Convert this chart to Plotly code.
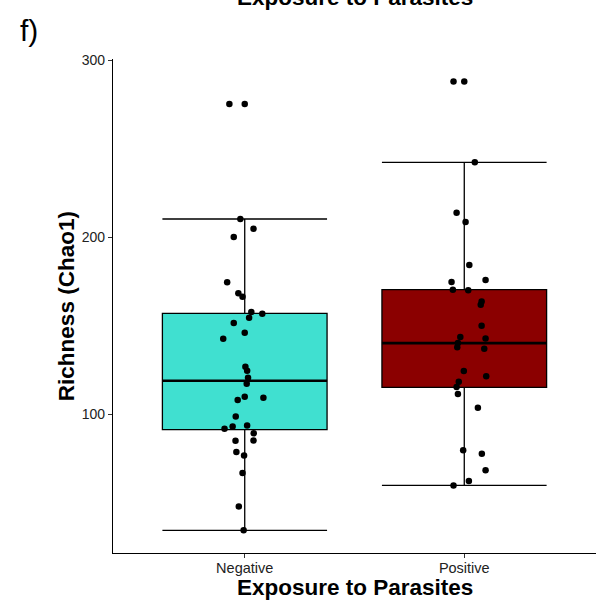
import plotly.graph_objects as go

# ---- data ----
categories = ["Negative", "Positive"]
cat_pos = [1, 2]

# box statistics (lower whisker, Q1, median, Q3, upper whisker)
lower_whisker = [34.5, 59.9]
q1 = [91.4, 115.3]
median = [119.0, 140.3]
q3 = [157.1, 170.5]
upper_whisker = [210.4, 242.4]
outliers = [[275.4], [288.1]]

# jittered observations: values and horizontal jitter offsets (category units)
neg_values = [275.4, 210.4, 204.9, 200.2, 174.6, 168.4, 166.5, 157.9, 156.9, 154.6,
              151.6, 146.2, 142.8, 126.9, 124.7, 120.7, 117.3, 110.0, 108.2, 109.4,
              98.8, 91.9, 93.1, 93.8, 89.3, 85.1, 85.3, 78.8, 76.8, 66.9, 48.0, 34.5]
neg_jitter = [-0.070, -0.020, 0.040, -0.050, -0.080, -0.029, -0.010, 0.030, 0.080, 0.020,
              -0.050, 0.000, -0.098, 0.003, 0.011, 0.015, 0.009, 0.000, -0.032, 0.085,
              -0.041, -0.092, -0.055, 0.011, 0.041, -0.042, 0.040, -0.038, -0.003, -0.010,
              -0.027, -0.005]
pos_values = [288.1, 242.4, 214.0, 208.7, 184.4, 174.8, 175.9, 170.5, 170.1, 163.8,
              162.0, 150.1, 143.7, 142.9, 140.3, 137.9, 137.1, 124.5, 121.5, 118.5,
              115.5, 111.5, 103.8, 79.7, 77.8, 68.4, 62.4, 59.9]
pos_jitter = [-0.049, 0.048, -0.035, 0.006, 0.023, -0.058, 0.097, -0.052, 0.018, 0.079,
              0.075, 0.079, -0.018, 0.097, -0.029, -0.032, 0.091, -0.002, 0.100, -0.025,
              -0.035, -0.029, 0.062, -0.005, 0.080, 0.097, 0.021, -0.049]
values = [neg_values, pos_values]
jitters = [neg_jitter, pos_jitter]

fill_colors = ["#40E0D0", "#8B0000"]
y_ticks = [100, 200, 300]
box_width = 0.75

FONT = "Liberation Sans, Arial, Helvetica, sans-serif"
TITLE_SIZE = 22.5

fig = go.Figure()

for i, c in enumerate(cat_pos):
    fig.add_trace(go.Box(
        x=[c], q1=[q1[i]], median=[median[i]], q3=[q3[i]],
        lowerfence=[lower_whisker[i]], upperfence=[upper_whisker[i]],
        width=box_width, whiskerwidth=1, boxpoints=False,
        fillcolor=fill_colors[i], line=dict(color="black", width=1.3),
        showlegend=False, hoverinfo="skip",
    ))
    # thicker median line (ggplot fatten)
    fig.add_trace(go.Scatter(
        x=[c - box_width / 2, c + box_width / 2], y=[median[i], median[i]],
        mode="lines", line=dict(color="black", width=2.6),
        showlegend=False, hoverinfo="skip",
    ))
    # boxplot outliers at the category centre
    fig.add_trace(go.Scatter(
        x=[c] * len(outliers[i]), y=outliers[i], mode="markers",
        marker=dict(color="black", size=6.5), showlegend=False,
    ))
    # jittered points
    fig.add_trace(go.Scatter(
        x=[c + j for j in jitters[i]], y=values[i], mode="markers",
        marker=dict(color="black", size=6.5), showlegend=False,
    ))

fig.update_layout(
    width=597, height=601,
    margin=dict(l=113, r=1, t=59, b=48),
    paper_bgcolor="white", plot_bgcolor="white",
    font=dict(family=FONT, color="black"),
    xaxis=dict(
        range=[0.4, 2.6], tickvals=cat_pos, ticktext=categories,
        showline=True, linecolor="black", linewidth=1.2,
        ticks="outside", ticklen=4, tickcolor="#333333", tickwidth=1,
        ticklabelstandoff=-3,
        tickfont=dict(size=14.5, color="#222222"), showgrid=False, zeroline=False,
    ),
    yaxis=dict(
        range=[21.7, 300.8], tickvals=y_ticks,
        showline=True, linecolor="black", linewidth=1.2,
        ticks="outside", ticklen=4, tickcolor="#333333", tickwidth=1,
        tickfont=dict(size=14, color="#222222"), showgrid=False, zeroline=False,
    ),
    annotations=[
        dict(text="<b>Exposure to Parasites</b>", xref="paper", yref="paper",
             x=0.5, y=-0.0705, xanchor="center", yanchor="middle",
             showarrow=False, font=dict(size=TITLE_SIZE, family=FONT, color="black")),
        dict(text="<b>Richness (Chao1)</b>", xref="paper", yref="paper",
             x=-0.097, y=0.5, xanchor="center", yanchor="middle", textangle=-90,
             showarrow=False, font=dict(size=TITLE_SIZE, family=FONT, color="black")),
        dict(text="<b>Exposure to Parasites</b>", xref="paper", yref="paper",
             x=0.5, y=1.1243, xanchor="center", yanchor="middle",
             showarrow=False, font=dict(size=TITLE_SIZE, family=FONT, color="black")),
        dict(text="f)", xref="paper", yref="paper",
             x=-0.174, y=1.0567, xanchor="center", yanchor="middle",
             showarrow=False, font=dict(size=30, family=FONT, color="black")),
    ],
)

fig.write_html("out.html")
